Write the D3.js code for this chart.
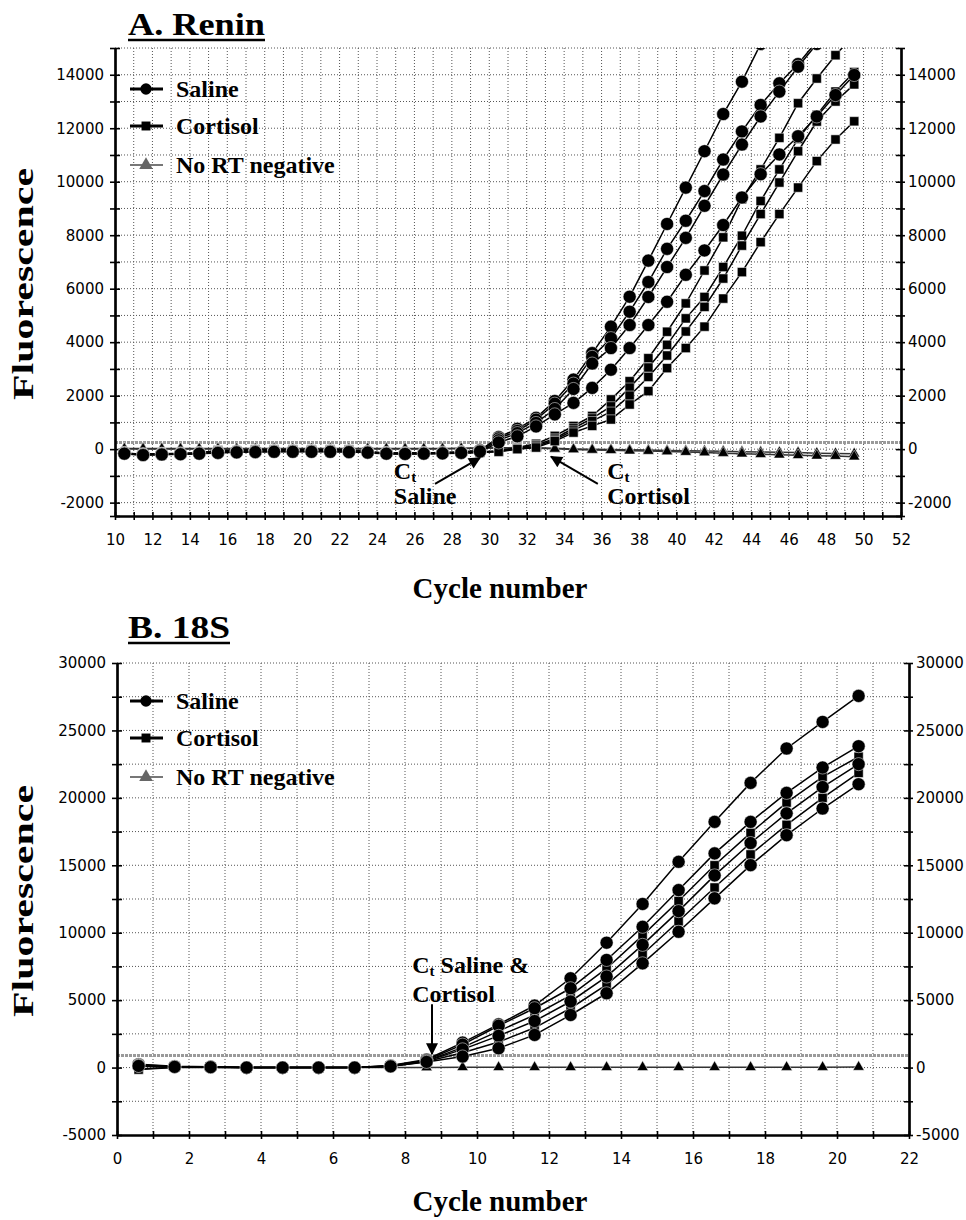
<!DOCTYPE html>
<html>
<head>
<meta charset="utf-8">
<script src="https://cdn.jsdelivr.net/npm/d3@7"></script>
<style>
  body { margin: 0; background: #fff; }
  svg { display: block; }
  .tick text { font-family: "DejaVu Sans", sans-serif; font-size: 15px; fill: #000; }
  .serif { font-family: "Liberation Serif", "Times New Roman", serif; font-weight: bold; fill: #000; }
</style>
</head>
<body>
<div id="chart"></div>
<script>
// ---- data: panel A (Renin) ----
const cyclesA = [10.5, 11.5, 12.5, 13.5, 14.5, 15.5, 16.5, 17.5, 18.5, 19.5,
                 20.5, 21.5, 22.5, 23.5, 24.5, 25.5, 26.5, 27.5, 28.5, 29.5,
                 30.5, 31.5, 32.5, 33.5, 34.5, 35.5, 36.5, 37.5, 38.5, 39.5,
                 40.5, 41.5, 42.5, 43.5, 44.5, 45.5, 46.5, 47.5, 48.5, 49.5];
const salineA = [
  [-150, -200, -180, -170, -150, -120, -100, -90, -80, -80, -80, -80, -90, -110, -150, -160, -150, -140, -120, -60,
   450, 760, 1170, 1800, 2600, 3590, 4580, 5700, 7050, 8420, 9780, 11140, 12530, 13740, 15150, 16400, null, null, null, null],
  [-140, -190, -170, -160, -140, -110, -90, -80, -70, -70, -70, -70, -80, -100, -140, -150, -140, -130, -110, -40,
   400, 680, 1100, 1700, 2450, 3450, 4150, 5140, 6250, 7490, 8540, 9650, 10830, 11880, 12870, 13680, 14400, 15250, 16100, null],
  [-160, -210, -190, -180, -160, -130, -110, -100, -90, -90, -90, -90, -100, -120, -160, -170, -160, -150, -130, -70,
   330, 600, 980, 1500, 2250, 3200, 3780, 4640, 5690, 6810, 7900, 9100, 10270, 11390, 12440, 13370, 14300, 15150, 16000, null],
  [-170, -220, -200, -190, -170, -140, -120, -110, -100, -100, -100, -100, -110, -130, -170, -180, -170, -160, -140, -90,
   250, 480, 850, 1300, 1730, 2290, 2970, 3780, 4640, 5510, 6520, 7430, 8380, 9410, 10280, 11020, 11700, 12440, 13240, 13990]
];
const cortisolA = [
  [-160, -200, -180, -170, -150, -50, -60, -20, -20, -20, -20, -20, -20, -120, -150, -150, -150, -140, -130, -110,
   -60, 60, 200, 495, 866, 1240, 1860, 2540, 3400, 4390, 5450, 6680, 7920, 9345, 10460, 11640, 12935, 13860, 14730, 15500],
  [-170, -210, -190, -180, -160, -60, -70, -30, -30, -30, -30, -30, -30, -130, -160, -160, -160, -150, -140, -120,
   -80, 40, 150, 400, 780, 1150, 1600, 2300, 3050, 3900, 4890, 5690, 6810, 7980, 9280, 10460, 11600, 12500, 13370, 14100],
  [-150, -190, -170, -160, -140, -40, -50, -10, -10, -10, -10, -10, -10, -110, -140, -140, -140, -130, -120, -100,
   -90, 20, 100, 350, 700, 1050, 1400, 2000, 2700, 3500, 4400, 5320, 6380, 7610, 8790, 9970, 11140, 12250, 13000, 13640],
  [-180, -220, -200, -190, -170, -70, -80, -40, -40, -40, -40, -40, -40, -140, -170, -170, -170, -160, -150, -130,
   -100, 0, 60, 300, 620, 870, 1110, 1670, 2170, 3030, 3780, 4580, 5630, 6620, 7740, 8790, 9780, 10770, 11580, 12260]
];
const noRtA = [
  [20, 20, 20, 20, 20, 20, 20, 20, 20, 20, 20, 20, 20, 20, 20, 20, 20, 20, 30, 40,
   50, 60, 50, 30, 10, 0, -10, -20, -30, -50, -60, -70, -80, -100, -110, -120, -130, -150, -160, -170],
  [10, 10, 10, 10, 10, 10, 10, 10, 10, 10, 10, 10, 10, 10, 10, 10, 10, 10, 20, 30,
   40, 40, 30, 10, -10, -30, -40, -60, -70, -90, -110, -130, -150, -170, -190, -210, -230, -250, -260, -280]
];
const yTicksA = [-2000, 0, 2000, 4000, 6000, 8000, 10000, 12000, 14000];
const xTicksA = [10, 12, 14, 16, 18, 20, 22, 24, 26, 28, 30, 32, 34, 36, 38, 40, 42, 44, 46, 48, 50, 52];

// ---- data: panel B (18S) ----
const cyclesB = [0.6, 1.6, 2.6, 3.6, 4.6, 5.6, 6.6, 7.6, 8.6, 9.6, 10.6,
                 11.6, 12.6, 13.6, 14.6, 15.6, 16.6, 17.6, 18.6, 19.6, 20.6];
const salineB = [
  [250, 100, 60, 0, 0, 0, 0, 150, 600, 1850, 3200, 4600, 6620, 9260, 12130, 15260, 18220, 21110, 23660, 25630, 27560],
  [200, 80, 50, 0, 0, 0, 0, 130, 550, 1700, 3100, 4400, 5880, 7980, 10440, 13160, 15880, 18220, 20370, 22250, 23830],
  [150, 60, 40, 0, 0, 0, 0, 110, 480, 1350, 2350, 3450, 4900, 6750, 9100, 11600, 14250, 16650, 18850, 20800, 22500],
  [120, 50, 30, 0, 0, 0, 0, 90, 420, 820, 1430, 2420, 3900, 5510, 7730, 10070, 12550, 15010, 17230, 19210, 21010]
];
const cortisolB = [
  [-100, 20, 20, 0, 0, 0, 0, 100, 500, 1500, 2700, 3900, 5350, 7350, 9800, 12350, 15000, 17400, 19650, 21550, 23050],
  [-150, 10, 10, 0, 0, 0, 0, 80, 450, 1100, 1900, 2950, 4400, 6150, 8400, 10850, 13350, 15800, 18000, 20000, 21850]
];
const noRtB = [
  [100, 40, 20, 0, 0, 0, 0, 0, 10, 20, 20, 20, 20, 20, 20, 20, 20, 20, 30, 30, 40]
];
const yTicksB = [-5000, 0, 5000, 10000, 15000, 20000, 25000, 30000];
const xTicksB = [0, 2, 4, 6, 8, 10, 12, 14, 16, 18, 20, 22];

const W = 966, H = 1220;
const svg = d3.select('#chart').append('svg').attr('width', W).attr('height', H);

const defs = svg.append('defs');
defs.append('marker').attr('id', 'arrow').attr('viewBox', '0 0 10 10')
  .attr('refX', 9).attr('refY', 5).attr('markerWidth', 14).attr('markerHeight', 12)
  .attr('markerUnits', 'userSpaceOnUse').attr('orient', 'auto')
  .append('path').attr('d', 'M0,0 L10,5 L0,10 Z').attr('fill', '#000');

function symbolFor(kind) {
  if (kind === 'saline') return d3.symbol().type(d3.symbolCircle).size(135);
  if (kind === 'cortisol') return d3.symbol().type(d3.symbolSquare).size(85);
  return d3.symbol().type(d3.symbolTriangle).size(55);
}

function drawPanel(p) {
  const g = svg.append('g');
  const x = p.x, y = p.y;
  const [x0, x1] = x.range();
  const [yb, yt] = y.range();

  const clipId = 'clip' + p.id;
  defs.append('clipPath').attr('id', clipId)
    .append('rect').attr('x', x0).attr('y', yt).attr('width', x1 - x0).attr('height', yb - yt);

  // grid
  const grid = g.append('g').attr('stroke', '#555').attr('stroke-width', 1).attr('stroke-dasharray', '1,2');
  grid.selectAll('.vg').data(p.xGrid).enter().append('line')
    .attr('x1', d => x(d)).attr('x2', d => x(d)).attr('y1', yt).attr('y2', yb);
  grid.selectAll('.hg').data(p.yGrid).enter().append('line')
    .attr('x1', x0).attr('x2', x1).attr('y1', d => y(d)).attr('y2', d => y(d));

  // threshold
  g.append('line').attr('x1', x0).attr('x2', x1)
    .attr('y1', y(p.threshold)).attr('y2', y(p.threshold))
    .attr('stroke', '#9a9a9a').attr('stroke-width', 3).attr('stroke-dasharray', '3,1');

  // axes (ticks cross the axis line)
  const yTickVals = p.yGrid.concat([y.domain()[0]]);
  const fmt = d => (p.yTicks.includes(d) ? d : '');
  const leftOut = d3.axisLeft(y).tickValues(yTickVals).tickSize(5).tickPadding(6).tickFormat(fmt);
  const leftIn = d3.axisRight(y).tickValues(yTickVals).tickSize(5).tickFormat('');
  const rightOut = d3.axisRight(y).tickValues(yTickVals).tickSize(4).tickPadding(3).tickFormat(fmt);
  const rightIn = d3.axisLeft(y).tickValues(yTickVals).tickSize(5).tickFormat('');
  const xt = p.xGrid.concat([x.domain()[0], x.domain()[1]]);
  const botOut = d3.axisBottom(x).tickValues(xt).tickSize(4).tickPadding(14)
    .tickFormat(d => (p.xTicks.includes(d) ? d : ''));
  const botIn = d3.axisTop(x).tickValues(xt).tickSize(4).tickFormat('');

  [[leftOut, `translate(${x0},0)`], [leftIn, `translate(${x0},0)`],
   [rightOut, `translate(${x1},0)`], [rightIn, `translate(${x1},0)`],
   [botOut, `translate(0,${yb})`], [botIn, `translate(0,${yb})`]].forEach(([ax, tr]) => {
    const a = g.append('g').attr('transform', tr).call(ax.tickSizeOuter(0));
    a.select('.domain').attr('stroke', '#000').attr('stroke-width', 2.2);
    a.selectAll('.tick line').attr('stroke', '#000').attr('stroke-width', 1.6);
  });

  // series
  const plot = g.append('g').attr('clip-path', `url(#${clipId})`);
  const line = d3.line().defined(d => d[1] !== null).x(d => x(d[0])).y(d => y(d[1]));
  const groups = [
    { kind: 'norT', rows: p.noRt, stroke: '#333' },
    { kind: 'cortisol', rows: p.cortisol, stroke: '#000' },
    { kind: 'saline', rows: p.saline, stroke: '#000' }
  ];
  groups.forEach(gr => {
    gr.rows.forEach(vals => {
      const pts = p.cycles.map((c, i) => [c, vals[i]]);
      plot.append('path').datum(pts).attr('d', line)
        .attr('fill', 'none').attr('stroke', gr.stroke).attr('stroke-width', 1.5);
      plot.selectAll(null).data(pts.filter(d => d[1] !== null)).enter().append('path')
        .attr('d', symbolFor(gr.kind))
        .attr('transform', d => `translate(${x(d[0])},${y(d[1])})`)
        .attr('fill', '#000').attr('stroke', '#fff').attr('stroke-width', 0.5);
    });
  });

  // legend
  const names = ['Saline', 'Cortisol', 'No RT negative'];
  const kinds = ['saline', 'cortisol', 'norT'];
  names.forEach((nm, i) => {
    const ly = p.legendY[i];
    g.append('line').attr('x1', 130).attr('x2', 163).attr('y1', ly).attr('y2', ly)
      .attr('stroke', i === 2 ? '#777' : '#000').attr('stroke-width', i === 2 ? 2 : 3);
    g.append('path').attr('d', symbolFor(kinds[i]).size(i === 0 ? 100 : 80)())
      .attr('transform', `translate(146,${ly})`).attr('fill', i === 2 ? '#666' : '#000');
    g.append('text').attr('class', 'serif').attr('x', 176).attr('y', ly + 8)
      .attr('font-size', 24).text(nm);
  });

  // title
  g.append('text').attr('class', 'serif').attr('x', 128).attr('y', p.titleY)
    .attr('font-size', 31).attr('textLength', p.titleLen).attr('lengthAdjust', 'spacingAndGlyphs').text(p.title);
  g.append('line').attr('x1', 128).attr('x2', 128 + p.titleLen)
    .attr('y1', p.titleY + 5).attr('y2', p.titleY + 5).attr('stroke', '#000').attr('stroke-width', 2.5);

  // axis titles
  g.append('text').attr('class', 'serif').attr('font-size', 30)
    .attr('text-anchor', 'middle').attr('textLength', 232).attr('lengthAdjust', 'spacingAndGlyphs')
    .attr('transform', `translate(33,${(yt + yb) / 2 + 2}) rotate(-90)`).text('Fluorescence');
  g.append('text').attr('class', 'serif').attr('font-size', 29)
    .attr('text-anchor', 'middle').attr('x', 500).attr('y', p.xTitleY).text('Cycle number');

  // Ct annotations
  p.notes.forEach(n => {
    g.append('line').attr('x1', x(n.from[0])).attr('y1', y(n.from[1]))
      .attr('x2', x(n.to[0])).attr('y2', y(n.to[1]))
      .attr('stroke', '#000').attr('stroke-width', 2).attr('marker-end', 'url(#arrow)');
    const t = g.append('text').attr('class', 'serif').attr('font-size', 24)
      .attr('x', x(n.at[0])).attr('y', y(n.at[1]));
    t.append('tspan').text('C');
    t.append('tspan').attr('font-size', 15).attr('dy', 3).text('t');
    if (n.rest1) t.append('tspan').attr('dy', -3).text(' ' + n.rest1);
    g.append('text').attr('class', 'serif').attr('font-size', 24)
      .attr('x', x(n.at[0])).attr('y', y(n.at[1]) + n.gap).text(n.line2);
  });
}

drawPanel({
  id: 'A', title: 'A. Renin', titleY: 35, titleLen: 137, xTitleY: 598,
  x: d3.scaleLinear().domain([10, 52]).range([115, 901]),
  y: d3.scaleLinear().domain([-2500, 15000]).range([516, 48]),
  cycles: cyclesA, saline: salineA, cortisol: cortisolA, noRt: noRtA,
  xTicks: xTicksA, yTicks: yTicksA,
  xGrid: d3.range(11, 52, 1), yGrid: d3.range(-2000, 15001, 1000),
  threshold: 250, legendY: [89, 126, 165],
  notes: [
    { at: [24.9, -1100], from: [27.1, -1300], to: [29.5, -330], line2: 'Saline', gap: 25 },
    { at: [36.3, -1100], from: [35.8, -1300], to: [33.3, -280], line2: 'Cortisol', gap: 25 }
  ]
});

drawPanel({
  id: 'B', title: 'B. 18S', titleY: 638, titleLen: 102, xTitleY: 1211,
  x: d3.scaleLinear().domain([0, 22]).range([117, 909]),
  y: d3.scaleLinear().domain([-5000, 30000]).range([1135, 663]),
  cycles: cyclesB, saline: salineB, cortisol: cortisolB, noRt: noRtB,
  xTicks: xTicksB, yTicks: yTicksB,
  xGrid: d3.range(1, 22, 1), yGrid: d3.range(-2500, 30001, 2500),
  threshold: 900, legendY: [701, 738, 777],
  notes: [
    { at: [8.2, 7000], from: [8.75, 4700], to: [8.75, 1000], rest1: 'Saline &', line2: 'Cortisol', gap: 29 }
  ]
});
</script>
</body>
</html>
